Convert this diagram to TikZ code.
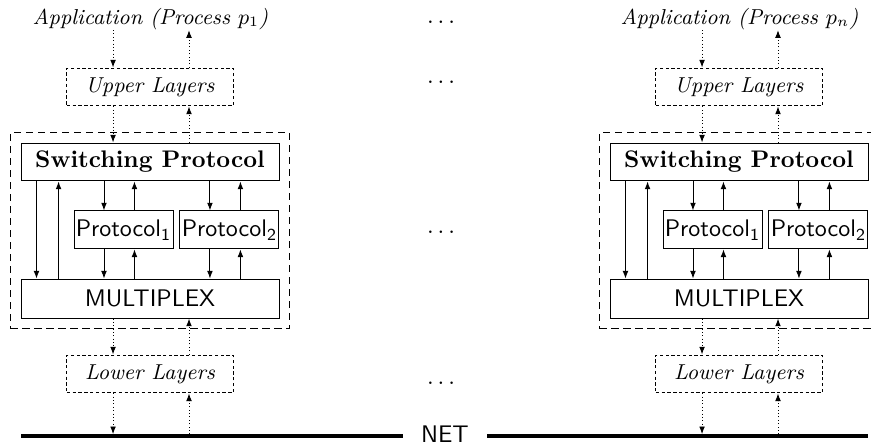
\documentclass[tikz,border=0pt]{standalone}
\usepackage{amsmath}
\usepackage{tikz}
\usetikzlibrary{arrows,arrows.meta,calc,fit}

\begin{document}
\begin{tikzpicture}[
  x=1pt, y=-1pt,
  layer/.style={draw, dash pattern=on 1.4pt off 1pt, minimum width=69.2pt,
    minimum height=15.8pt, inner sep=0pt, font=\small\itshape},
  block/.style={draw, minimum height=15.8pt, inner sep=0pt},
  stack/.style={draw, densely dashed, inner sep=4.2pt},
  flow/.style={densely dotted, -{Latex[length=3.2pt,width=2.4pt]}},
  call/.style={-{Latex[length=3.2pt,width=2.4pt]}},
  wire/.style={line width=1.6pt}
  ]
  \useasboundingbox (0,0) rectangle (362.9,184.6);
  \coordinate (wirel) at (8.75,181.7);
  \coordinate (wirer) at (361.7,181.7);
  \node[font=\sffamily, anchor=base, inner xsep=7.5pt, inner ysep=0pt] (net) at (185.4,184.2) {NET};
  \draw[wire] (wirel) -- (wirel -| net.west);
  \draw[wire] (net.east |- wirer) -- (wirer);
  \node[anchor=base, inner sep=0pt] (dapp) at (184.6,9.7) {$\dots$};
  \node[anchor=base, inner sep=0pt] (dup) at (184.6,34.7) {$\dots$};
  \node[anchor=base, inner sep=0pt] (dprot) at (184.6,97.2) {$\dots$};
  \node[anchor=base, inner sep=0pt] (dlow) at (184.6,160.1) {$\dots$};
  \newcommand{\protstack}[3]{%
    \begin{scope}[xshift=#1]
      \node[anchor=base, inner sep=0pt, font=\small\itshape] (app#2) at (62.7,10.1) {Application (Process $p_{#3}$)};
      \node[layer] (up#2) at (62.5,36.25) {Upper Layers};
      \node[block, minimum width=107.5pt, font=\bfseries] (sw#2) at (62.5,67.5) {Switching Protocol};
      \node[block, minimum width=41.25pt, font=\sffamily] (pa#2) at (51.45,95.8) {Protocol\textsubscript{1}};
      \node[block, minimum width=41.25pt, font=\sffamily] (pb#2) at (95.6,95.8) {Protocol\textsubscript{2}};
      \node[block, minimum width=107.5pt, minimum height=16.25pt, font=\sffamily] (mux#2) at (62.5,124.4) {MULTIPLEX};
      \node[layer] (low#2) at (62.5,155.8) {Lower Layers};
    \end{scope}
    \node[stack, fit=(sw#2)(mux#2)] (box#2) {};
    % application, upper layers, switching
    \draw[flow] ([xshift=-15.4]up#2.north |- app#2.south) -- ([xshift=-15.4]up#2.north);
    \draw[flow] ([xshift=16.25]up#2.north) -- ([xshift=16.25]up#2.north |- app#2.south);
    \draw[flow] ([xshift=-15.4]up#2.south) -- ([xshift=-15.4]up#2.south |- sw#2.north);
    \draw[flow] ([xshift=16.25]up#2.south |- sw#2.north) -- ([xshift=16.25]up#2.south);
    % switching, protocols, multiplex
    \draw[call] ([xshift=6.65]sw#2.south west) -- ([xshift=6.65]sw#2.south west |- mux#2.north);
    \draw[call] ([xshift=15.85]sw#2.south west |- mux#2.north) -- ([xshift=15.85]sw#2.south west);
    \draw[call] ([xshift=12.7]pa#2.north west |- sw#2.south) -- ([xshift=12.7]pa#2.north west);
    \draw[call] ([xshift=25.4]pa#2.north west) -- ([xshift=25.4]pa#2.north west |- sw#2.south);
    \draw[call] ([xshift=12.7]pb#2.north west |- sw#2.south) -- ([xshift=12.7]pb#2.north west);
    \draw[call] ([xshift=25.4]pb#2.north west) -- ([xshift=25.4]pb#2.north west |- sw#2.south);
    \draw[call] ([xshift=12.7]pa#2.south west) -- ([xshift=12.7]pa#2.south west |- mux#2.north);
    \draw[call] ([xshift=25.4]pa#2.south west |- mux#2.north) -- ([xshift=25.4]pa#2.south west);
    \draw[call] ([xshift=12.7]pb#2.south west) -- ([xshift=12.7]pb#2.south west |- mux#2.north);
    \draw[call] ([xshift=25.4]pb#2.south west |- mux#2.north) -- ([xshift=25.4]pb#2.south west);
    % multiplex, lower layers, net
    \draw[flow] ([xshift=-15.4]low#2.north |- mux#2.south) -- ([xshift=-15.4]low#2.north);
    \draw[flow] ([xshift=16.25]low#2.north) -- ([xshift=16.25]low#2.north |- mux#2.south);
    \draw[flow, shorten >=0.8pt] ([xshift=-15.4]low#2.south) -- ([xshift=-15.4]low#2.south |- wirel);
    \draw[flow, shorten <=0.8pt] ([xshift=16.25]low#2.south |- wirel) -- ([xshift=16.25]low#2.south);
  }
  \protstack{0}{1}{1}
  \protstack{245.4}{n}{n}
\end{tikzpicture}
\end{document}
